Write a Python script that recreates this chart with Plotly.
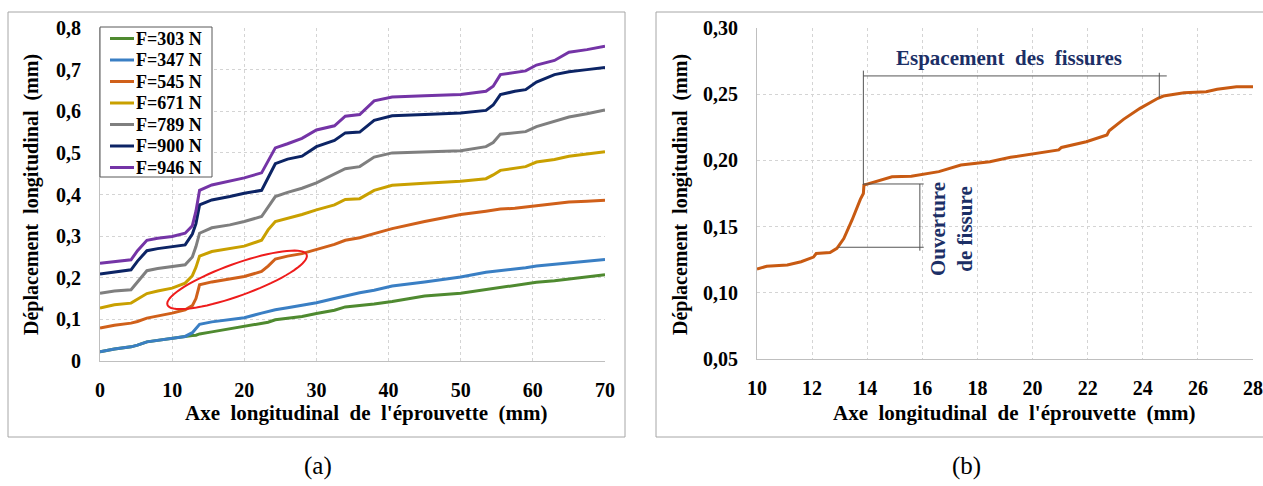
import math
import plotly.graph_objects as go

# ---------------- Data: panel (a) ----------------
x_pos = [0, 2, 4.3, 5.2, 6.5, 8, 10, 11.8, 12.8, 13.3, 13.8, 15.5, 18, 20, 22.4, 23.3, 24.3,
         26, 28, 30, 32.5, 34, 36, 38, 40.5, 45, 50, 53.5, 54.5, 55.5, 57.5, 59, 60.5, 63,
         65, 67.5, 70]

f303 = [0.022, 0.029, 0.034, 0.038, 0.046, 0.050, 0.055, 0.059, 0.061, 0.062, 0.065, 0.070,
        0.077, 0.082, 0.090, 0.093, 0.099, 0.102, 0.107, 0.114, 0.122, 0.130, 0.133, 0.137,
        0.143, 0.156, 0.163, 0.172, 0.174, 0.177, 0.181, 0.186, 0.189, 0.193, 0.197, 0.202,
        0.207]
f347 = [0.022, 0.029, 0.034, 0.038, 0.046, 0.050, 0.055, 0.059, 0.068, 0.078, 0.088, 0.094,
        0.099, 0.104, 0.115, 0.119, 0.123, 0.128, 0.134, 0.140, 0.150, 0.156, 0.164, 0.170,
        0.180, 0.190, 0.202, 0.213, 0.215, 0.217, 0.220, 0.224, 0.228, 0.232, 0.237, 0.240,
        0.244]
f545 = [0.079, 0.086, 0.091, 0.095, 0.103, 0.108, 0.115, 0.123, 0.133, 0.150, 0.183, 0.190,
        0.197, 0.203, 0.215, 0.228, 0.245, 0.252, 0.258, 0.268, 0.280, 0.290, 0.296, 0.306,
        0.318, 0.335, 0.352, 0.360, 0.362, 0.365, 0.367, 0.370, 0.373, 0.378, 0.382, 0.384,
        0.386]
f671 = [0.127, 0.135, 0.139, 0.148, 0.162, 0.168, 0.175, 0.187, 0.205, 0.225, 0.252, 0.263,
        0.270, 0.276, 0.290, 0.315, 0.335, 0.342, 0.352, 0.363, 0.375, 0.388, 0.390, 0.410,
        0.422, 0.427, 0.432, 0.438, 0.447, 0.458, 0.463, 0.467, 0.478, 0.484, 0.492, 0.497,
        0.503]
f789 = [0.163, 0.168, 0.171, 0.190, 0.217, 0.222, 0.227, 0.231, 0.250, 0.275, 0.307, 0.320,
        0.327, 0.335, 0.347, 0.370, 0.395, 0.405, 0.415, 0.428, 0.450, 0.462, 0.467, 0.490,
        0.500, 0.502, 0.505, 0.515, 0.525, 0.545, 0.549, 0.551, 0.563, 0.575, 0.586, 0.594,
        0.603]
f900 = [0.209, 0.214, 0.219, 0.240, 0.265, 0.270, 0.274, 0.279, 0.305, 0.330, 0.375, 0.387,
        0.395, 0.403, 0.410, 0.440, 0.474, 0.485, 0.492, 0.515, 0.530, 0.548, 0.550, 0.578,
        0.589, 0.592, 0.596, 0.602, 0.615, 0.640, 0.648, 0.652, 0.670, 0.688, 0.695, 0.700,
        0.705]
f946 = [0.235, 0.238, 0.243, 0.265, 0.290, 0.295, 0.299, 0.307, 0.325, 0.360, 0.410, 0.423,
        0.432, 0.440, 0.452, 0.480, 0.512, 0.522, 0.535, 0.555, 0.565, 0.588, 0.592, 0.625,
        0.634, 0.637, 0.640, 0.648, 0.660, 0.688, 0.693, 0.697, 0.711, 0.722, 0.742, 0.748,
        0.756]

series_names = ["F=303 N", "F=347 N", "F=545 N", "F=671 N", "F=789 N", "F=900 N", "F=946 N"]
series_values = [f303, f347, f545, f671, f789, f900, f946]
series_colors = ["#4f8a30", "#3a7fc4", "#d0601a", "#c9a000", "#7f7f7f", "#0c2465", "#7434a6"]

a_ticks = [0, 0.1, 0.2, 0.3, 0.4, 0.5, 0.6, 0.7, 0.8]
a_ticktext = ["0", "0,1", "0,2", "0,3", "0,4", "0,5", "0,6", "0,7", "0,8"]
a_xticks = [0, 10, 20, 30, 40, 50, 60, 70]

# ---------------- Data: panel (b) ----------------
xb = [10.0, 10.35, 11.1, 11.6, 12.05, 12.15, 12.65, 12.9, 13.15, 13.45, 13.75, 13.86, 13.88,
      14.3, 14.9, 15.6, 16.6, 17.4, 18.45, 19.2, 20.15, 20.95, 21.05, 21.95, 22.7, 22.78,
      23.3, 23.9, 24.55, 24.75, 25.5, 26.3, 26.7, 27.4, 28.0]
yb = [0.118, 0.120, 0.121, 0.1235, 0.127, 0.1297, 0.1305, 0.1336, 0.141, 0.155, 0.1706,
      0.175, 0.1814, 0.184, 0.1877, 0.188, 0.1915, 0.1965, 0.199, 0.2023, 0.2053, 0.2079,
      0.2098, 0.2141, 0.2192, 0.2224, 0.231, 0.2393, 0.2469, 0.2486, 0.2511, 0.2519, 0.2537,
      0.2556, 0.2556]
b_ticks = [0.05, 0.10, 0.15, 0.20, 0.25, 0.30]
b_ticktext = ["0,05", "0,10", "0,15", "0,20", "0,25", "0,30"]
b_xticks = [10, 12, 14, 16, 18, 20, 22, 24, 26, 28]

# crack annotation values (mm)
crack_x0, crack_x1 = 13.86, 24.6
crack_open_lo, crack_open_hi = 0.1344, 0.1822

# ---------------- Layout ----------------
W, H = 1263, 486
def px(xp):
    return xp / W
def py(yp):
    return 1 - yp / H

SERIF = "Liberation Serif"
AX_COL = "#bfbfbf"
GRID_COL = "#d4d4d4"
NB = "\u00a0"

def spaced(s):
    return s.replace(" ", " " + NB)

fig = go.Figure()

for name, vals, col in zip(series_names, series_values, series_colors):
    fig.add_trace(go.Scatter(x=x_pos, y=vals, mode="lines", name=name, showlegend=False,
                             line=dict(color=col, width=3), xaxis="x", yaxis="y"))

fig.add_trace(go.Scatter(x=xb, y=yb, mode="lines", showlegend=False,
                         line=dict(color="#c85a12", width=3), xaxis="x2", yaxis="y2"))

tickfont = dict(family=SERIF, size=20, color="black", weight="bold")
common_axis = dict(showgrid=True, gridcolor=GRID_COL, griddash="dot", gridwidth=1,
                   showline=True, linecolor=AX_COL, linewidth=1, zeroline=False,
                   tickfont=tickfont, ticks="", automargin=False)

fig.update_layout(
    width=W, height=H, margin=dict(l=0, r=0, t=0, b=0, autoexpand=False),
    paper_bgcolor="white", plot_bgcolor="white",
    xaxis=dict(domain=[px(100), px(605)], range=[0, 70], tickvals=a_xticks,
               anchor="y", ticklabelstandoff=11, **common_axis),
    yaxis=dict(domain=[py(361), py(28)], range=[0, 0.8], tickvals=a_ticks,
               ticktext=a_ticktext, anchor="x", ticklabelstandoff=14, **common_axis),
    xaxis2=dict(domain=[px(757), px(1253)], range=[10, 28], tickvals=b_xticks,
                anchor="y2", ticklabelstandoff=11, **common_axis),
    yaxis2=dict(domain=[py(359), py(28)], range=[0.05, 0.30], tickvals=b_ticks,
                ticktext=b_ticktext, anchor="x2", ticklabelstandoff=14, **common_axis),
    showlegend=False,
)

title_font = dict(family=SERIF, size=21, color="black", weight="bold")
ytitle_font = dict(family=SERIF, size=20, color="black", weight="bold")
def ann(text, x, y, font, angle=0, xanchor="center"):
    return dict(text=text, x=x, y=y, xref="paper", yref="paper", showarrow=False,
                xanchor=xanchor, yanchor="middle", textangle=angle, font=font)

annots = [
    ann(spaced("Axe longitudinal de l'éprouvette (mm)"), px(366), py(413), title_font),
    ann(spaced("Déplacement longitudinal (mm)"), px(31), py(195), ytitle_font, angle=-90),
    ann(spaced("Axe longitudinal de l'éprouvette (mm)"), px(1014), py(413), title_font),
    ann(spaced("Déplacement longitudinal (mm)"), px(680), py(195), ytitle_font, angle=-90),
    ann("(a)", px(318), py(466), dict(family=SERIF, size=25, color="black")),
    ann("(b)", px(966), py(466), dict(family=SERIF, size=25, color="black")),
    ann(spaced("Espacement des fissures"), px(1009), py(58),
        dict(family=SERIF, size=21, color="#1c2f66", weight="bold")),
    ann("Ouverture<br>de fissure", px(951), py(229),
        dict(family=SERIF, size=21, color="#1c2f66", weight="bold"), angle=-90),
]

shapes = []
# sub-figure frames
shapes.append(dict(type="rect", xref="paper", yref="paper", x0=px(8), x1=px(625),
                   y0=py(437), y1=py(12), line=dict(color="#a6a6a6", width=1)))
shapes.append(dict(type="rect", xref="paper", yref="paper", x0=px(656), x1=1.01,
                   y0=py(437), y1=py(12), line=dict(color="#a6a6a6", width=1)))

# legend box (drawn manually for compact spacing)
leg_left, leg_top, leg_right, leg_bottom = 100, 27, 212, 177
shapes.append(dict(type="rect", xref="paper", yref="paper", x0=px(leg_left), x1=px(leg_right),
                   y0=py(leg_bottom), y1=py(leg_top), fillcolor="white",
                   line=dict(color="#595959", width=1), layer="above"))
leg_font = dict(family=SERIF, size=18, color="black", weight="bold")
for i, (name, col) in enumerate(zip(series_names, series_colors)):
    yy = 38.5 + 21.5 * i
    shapes.append(dict(type="line", xref="paper", yref="paper", x0=px(110), x1=px(134),
                       y0=py(yy), y1=py(yy), line=dict(color=col, width=3), layer="above"))
    annots.append(ann(name, px(134), py(yy), leg_font, xanchor="left"))

# red ellipse in panel (a), built in screen scale then mapped to data
sx = 505 / 70.0       # px per mm
sy = 333 / 0.8        # px per unit displacement
cx, cy = 19.0, 0.195
a_px, b_px, ang = 74.0, 16.0, math.radians(19.8)
pts = []
for k in range(73):
    t = 2 * math.pi * k / 72
    ex = a_px * math.cos(t)
    ey = b_px * math.sin(t)
    rx = ex * math.cos(ang) - ey * math.sin(ang)
    ry = ex * math.sin(ang) + ey * math.cos(ang)
    pts.append((cx + rx / sx, cy + ry / sy))
path = "M " + " L ".join(f"{p[0]:.4f},{p[1]:.5f}" for p in pts) + " Z"
shapes.append(dict(type="path", xref="x", yref="y", path=path,
                   line=dict(color="#ee1c1c", width=2)))

# crack annotation lines in panel (b)
lc = dict(color="#555555", width=1)
top_y = 0.2678
horiz_y = 0.2638
shapes += [
    dict(type="line", xref="x2", yref="y2", x0=crack_x0, x1=crack_x0, y0=0.1814, y1=top_y, line=lc),
    dict(type="line", xref="x2", yref="y2", x0=crack_x0, x1=24.87, y0=horiz_y, y1=horiz_y, line=lc),
    dict(type="line", xref="x2", yref="y2", x0=crack_x1, x1=crack_x1, y0=0.247, y1=0.2662, line=lc),
    dict(type="line", xref="x2", yref="y2", x0=crack_x0, x1=16.05, y0=crack_open_hi, y1=crack_open_hi, line=lc),
    dict(type="line", xref="x2", yref="y2", x0=12.95, x1=16.05, y0=crack_open_lo, y1=crack_open_lo, line=lc),
    dict(type="line", xref="x2", yref="y2", x0=15.91, x1=15.91, y0=0.1318, y1=crack_open_hi, line=lc),
]
fig.update_layout(shapes=shapes, annotations=annots)

fig.write_html("out.html", config={"displayModeBar": False},
               post_script="document.body.style.margin='0';")
